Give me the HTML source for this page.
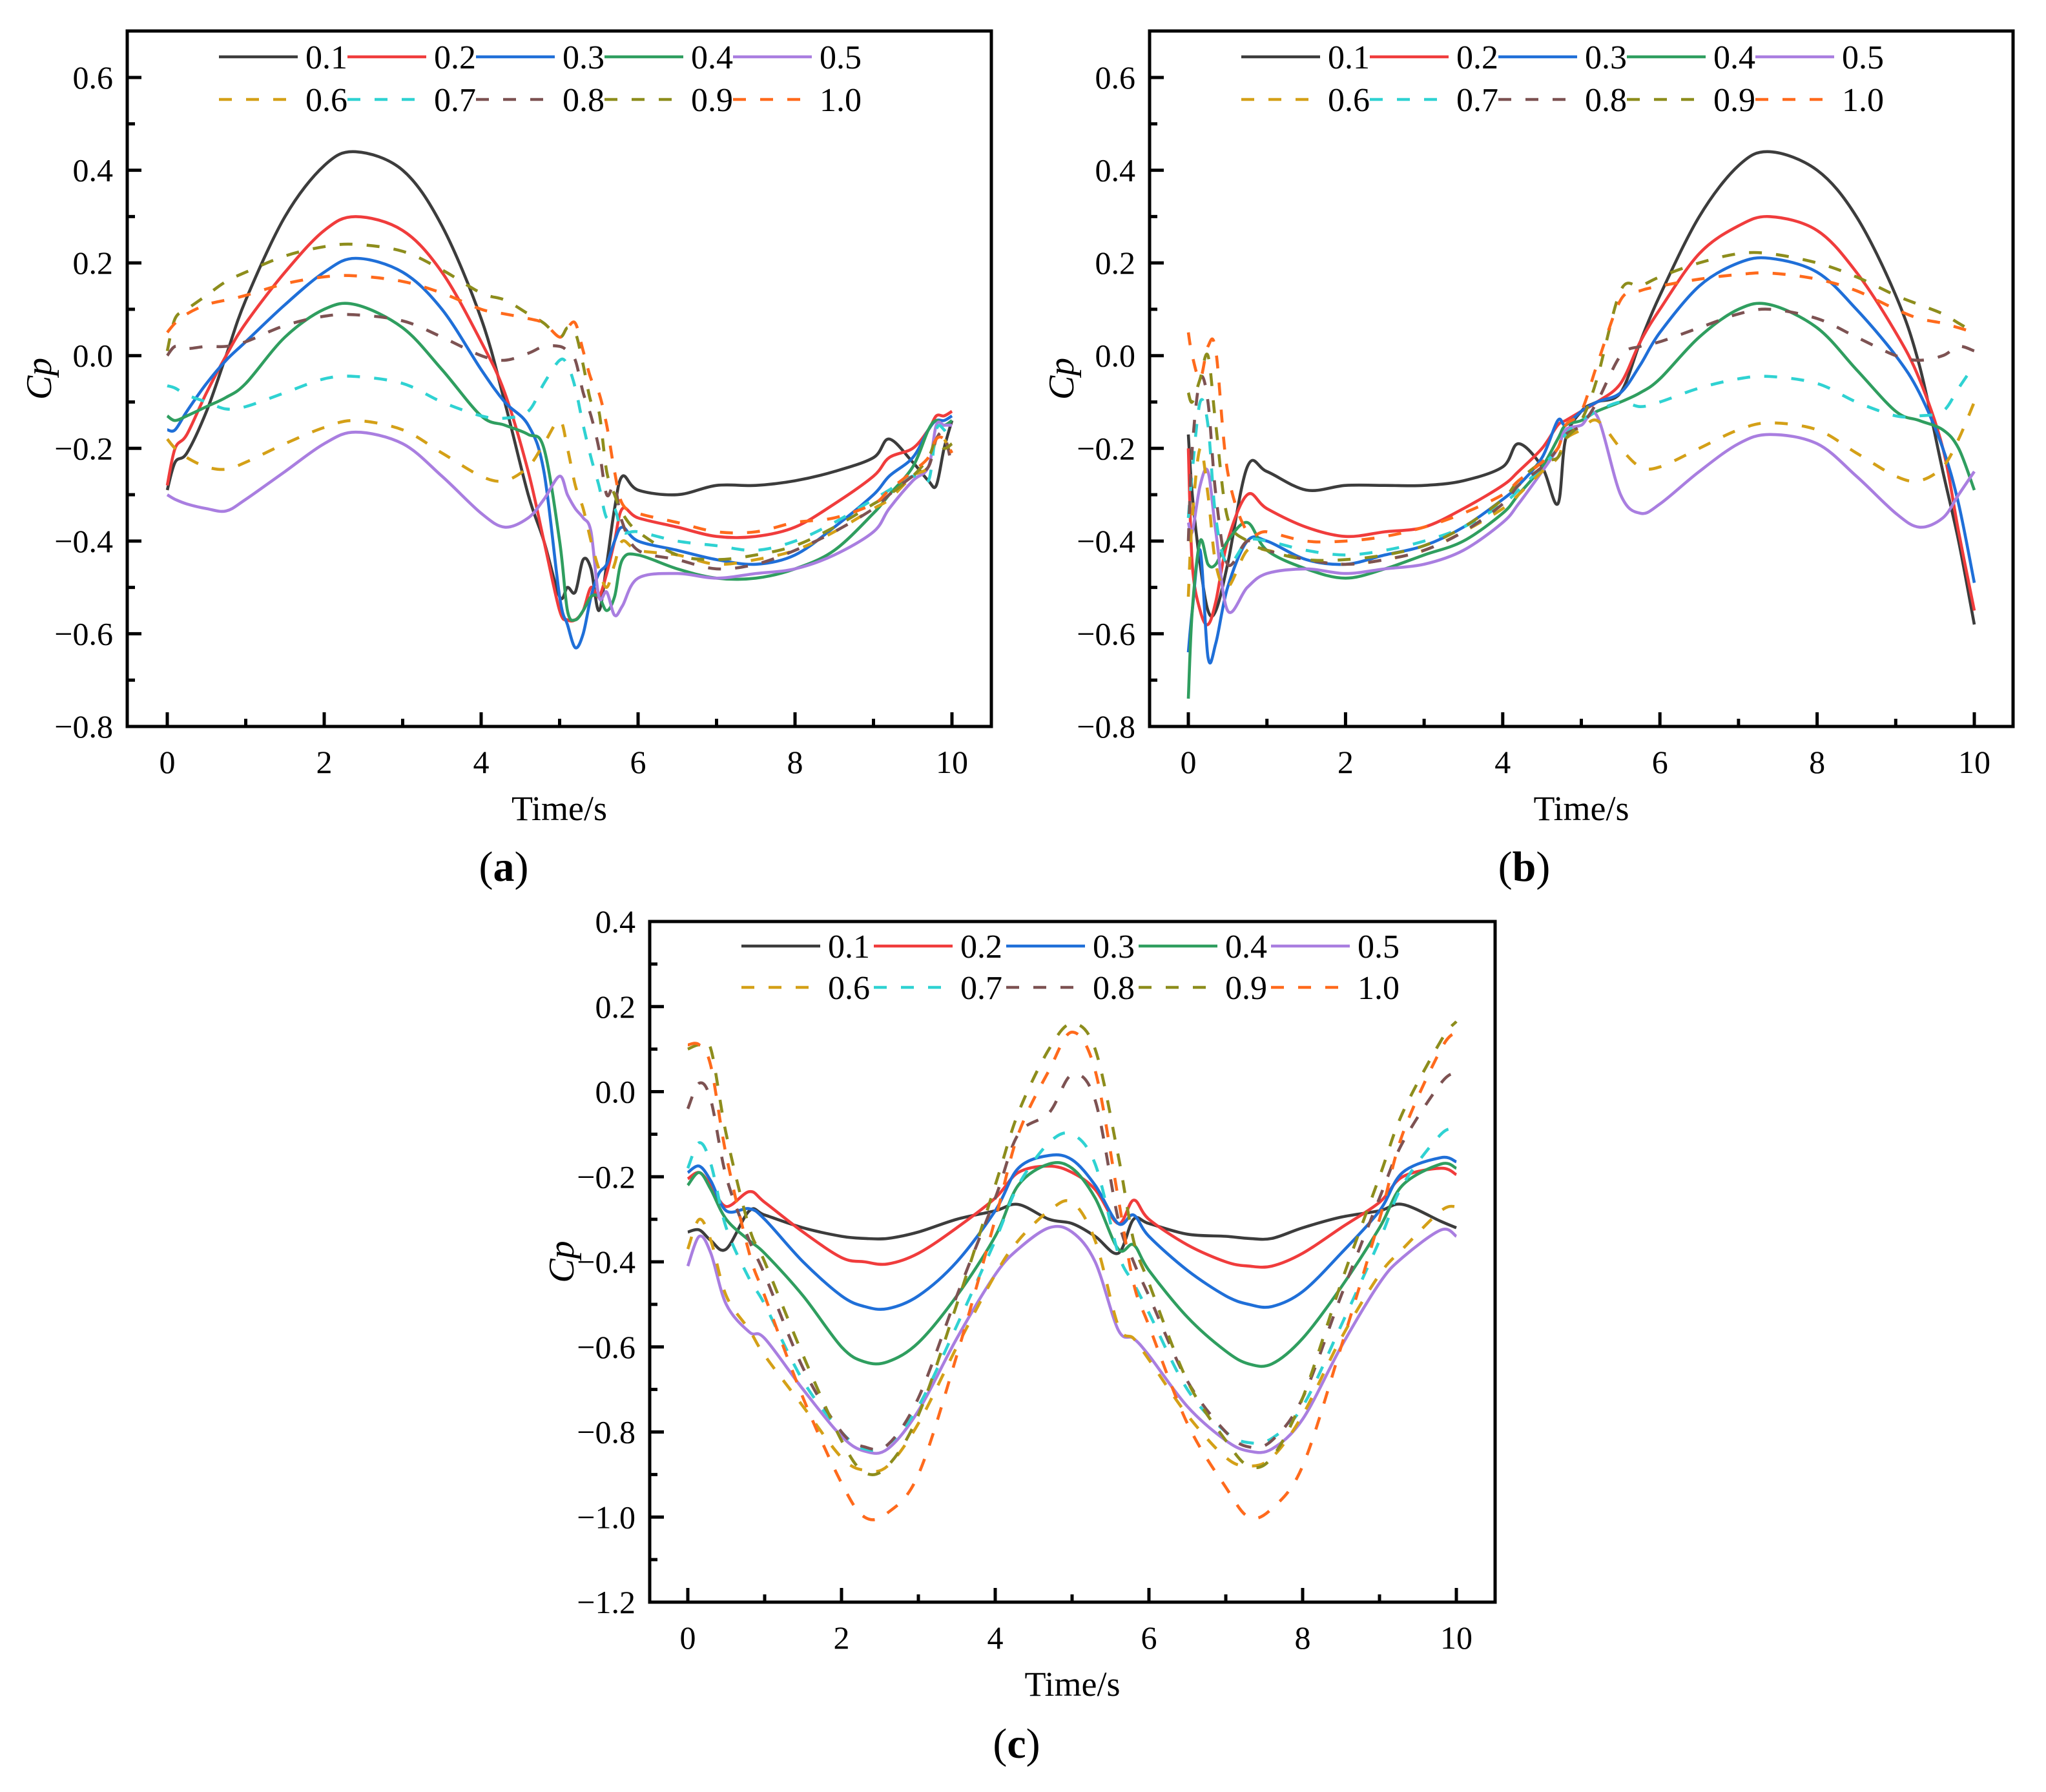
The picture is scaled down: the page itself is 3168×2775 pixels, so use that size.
<!DOCTYPE html>
<html><head><meta charset="utf-8"><style>
html,body{margin:0;padding:0;background:#fff;}
svg{display:block;font-family:"Liberation Serif",serif;}
</style></head><body>
<svg id="fig" width="3168" height="2775" viewBox="0 0 3168 2775" xmlns="http://www.w3.org/2000/svg"></svg>
<script>
const labels = ["0.1","0.2","0.3","0.4","0.5","0.6","0.7","0.8","0.9","1.0"];
const colors = ["#3c3c3c","#f03c3c","#1f6fd8","#2f9e5f","#a97ee0","#d4a017","#2fd2d2","#7d5252","#8d8d1c","#ff6a1c"];
const dashed = [false,false,false,false,false,true,true,true,true,true];

const timesA = [0,0.1,0.25,0.5,0.75,1,1.5,2,2.4,3,3.5,4,4.3,4.6,4.8,5.0,5.1,5.2,5.3,5.4,5.5,5.6,5.7,5.8,6,6.5,7,7.5,8,8.5,9,9.2,9.5,9.7,9.8,9.9,10];
const a01 = [-0.29,-0.23,-0.21,-0.12,0.0,0.12,0.30,0.41,0.44,0.40,0.28,0.08,-0.10,-0.30,-0.40,-0.52,-0.50,-0.51,-0.44,-0.46,-0.55,-0.45,-0.33,-0.26,-0.29,-0.30,-0.28,-0.28,-0.27,-0.25,-0.22,-0.18,-0.23,-0.27,-0.28,-0.20,-0.14];
const a02 = [-0.28,-0.20,-0.17,-0.08,0.0,0.07,0.18,0.27,0.30,0.27,0.18,0.03,-0.08,-0.25,-0.40,-0.55,-0.57,-0.57,-0.55,-0.50,-0.52,-0.47,-0.40,-0.33,-0.35,-0.37,-0.39,-0.39,-0.37,-0.32,-0.26,-0.22,-0.20,-0.16,-0.13,-0.13,-0.12];
const a03 = [-0.16,-0.16,-0.12,-0.06,-0.01,0.03,0.11,0.18,0.21,0.18,0.10,-0.03,-0.10,-0.15,-0.25,-0.52,-0.58,-0.63,-0.60,-0.52,-0.47,-0.45,-0.40,-0.37,-0.40,-0.42,-0.44,-0.45,-0.43,-0.37,-0.30,-0.26,-0.22,-0.16,-0.14,-0.14,-0.13];
const a04 = [-0.13,-0.14,-0.13,-0.11,-0.09,-0.06,0.04,0.10,0.11,0.06,-0.03,-0.13,-0.15,-0.17,-0.20,-0.40,-0.55,-0.57,-0.55,-0.52,-0.52,-0.55,-0.52,-0.44,-0.43,-0.46,-0.48,-0.48,-0.46,-0.42,-0.34,-0.30,-0.24,-0.16,-0.14,-0.15,-0.14];
const a05 = [-0.30,-0.31,-0.32,-0.33,-0.335,-0.31,-0.25,-0.19,-0.165,-0.19,-0.26,-0.34,-0.37,-0.35,-0.31,-0.26,-0.30,-0.33,-0.35,-0.38,-0.52,-0.51,-0.56,-0.54,-0.48,-0.47,-0.48,-0.47,-0.46,-0.43,-0.38,-0.33,-0.27,-0.24,-0.15,-0.15,-0.15];
const a06 = [-0.18,-0.20,-0.22,-0.24,-0.245,-0.23,-0.19,-0.155,-0.14,-0.16,-0.21,-0.26,-0.27,-0.24,-0.19,-0.14,-0.20,-0.28,-0.33,-0.40,-0.46,-0.50,-0.45,-0.40,-0.42,-0.43,-0.45,-0.44,-0.42,-0.38,-0.33,-0.31,-0.26,-0.24,-0.18,-0.18,-0.22];
const a07 = [-0.065,-0.07,-0.085,-0.10,-0.115,-0.11,-0.08,-0.05,-0.045,-0.06,-0.10,-0.13,-0.135,-0.12,-0.06,-0.01,-0.02,-0.07,-0.15,-0.22,-0.28,-0.35,-0.33,-0.38,-0.38,-0.40,-0.41,-0.42,-0.40,-0.36,-0.31,-0.29,-0.26,-0.27,-0.16,-0.16,-0.19];
const a08 = [0.0,0.02,0.015,0.02,0.02,0.03,0.065,0.085,0.088,0.075,0.04,0.0,-0.01,0.005,0.02,0.02,0.01,-0.01,-0.08,-0.13,-0.20,-0.30,-0.28,-0.36,-0.42,-0.44,-0.46,-0.45,-0.42,-0.38,-0.33,-0.30,-0.26,-0.24,-0.18,-0.17,-0.24];
const a09 = [0.01,0.08,0.10,0.13,0.16,0.18,0.215,0.235,0.24,0.225,0.185,0.135,0.12,0.09,0.07,0.04,0.06,0.05,-0.02,-0.10,-0.12,-0.25,-0.30,-0.34,-0.38,-0.43,-0.44,-0.43,-0.41,-0.37,-0.32,-0.30,-0.26,-0.22,-0.18,-0.20,-0.19];
const a10 = [0.05,0.07,0.09,0.11,0.12,0.13,0.155,0.17,0.172,0.16,0.135,0.10,0.09,0.08,0.07,0.04,0.06,0.07,0.01,-0.05,-0.08,-0.15,-0.25,-0.32,-0.34,-0.36,-0.38,-0.38,-0.36,-0.35,-0.32,-0.29,-0.25,-0.22,-0.18,-0.18,-0.21];

const timesB = [0,0.05,0.15,0.25,0.35,0.5,0.75,1,1.5,2,2.5,3,3.5,4,4.2,4.5,4.7,4.8,5.0,5.2,5.5,5.75,6,6.5,7,7.4,8,8.5,9,9.3,9.6,9.8,10];
const b01 = [-0.17,-0.30,-0.45,-0.55,-0.55,-0.45,-0.24,-0.25,-0.29,-0.28,-0.28,-0.28,-0.27,-0.24,-0.19,-0.24,-0.32,-0.18,-0.12,-0.10,-0.08,0.03,0.13,0.30,0.41,0.44,0.40,0.30,0.13,-0.02,-0.25,-0.40,-0.58];
const b02 = [-0.20,-0.45,-0.55,-0.58,-0.53,-0.40,-0.30,-0.33,-0.37,-0.39,-0.38,-0.37,-0.33,-0.28,-0.25,-0.20,-0.15,-0.14,-0.12,-0.10,-0.06,0.03,0.10,0.22,0.28,0.30,0.27,0.18,0.05,-0.05,-0.20,-0.38,-0.55];
const b03 = [-0.64,-0.55,-0.42,-0.65,-0.62,-0.50,-0.40,-0.40,-0.44,-0.45,-0.43,-0.41,-0.37,-0.31,-0.28,-0.22,-0.14,-0.15,-0.12,-0.10,-0.08,-0.02,0.05,0.15,0.20,0.21,0.18,0.10,0.00,-0.08,-0.20,-0.32,-0.49];
const b04 = [-0.74,-0.55,-0.40,-0.45,-0.45,-0.40,-0.36,-0.42,-0.46,-0.48,-0.46,-0.43,-0.40,-0.34,-0.30,-0.24,-0.18,-0.15,-0.14,-0.12,-0.10,-0.08,-0.05,0.04,0.10,0.11,0.06,-0.03,-0.12,-0.14,-0.16,-0.20,-0.29];
const b05 = [-0.36,-0.38,-0.28,-0.25,-0.38,-0.55,-0.50,-0.47,-0.46,-0.47,-0.46,-0.45,-0.42,-0.36,-0.32,-0.25,-0.20,-0.16,-0.15,-0.13,-0.30,-0.34,-0.32,-0.25,-0.19,-0.17,-0.19,-0.26,-0.34,-0.37,-0.35,-0.30,-0.25];
const b06 = [-0.52,-0.35,-0.20,-0.30,-0.45,-0.50,-0.42,-0.42,-0.44,-0.45,-0.44,-0.42,-0.38,-0.33,-0.30,-0.25,-0.22,-0.18,-0.16,-0.14,-0.20,-0.24,-0.24,-0.20,-0.16,-0.145,-0.16,-0.21,-0.26,-0.27,-0.24,-0.18,-0.10];
const b07 = [-0.35,-0.25,-0.10,-0.15,-0.35,-0.45,-0.40,-0.40,-0.42,-0.43,-0.42,-0.40,-0.37,-0.32,-0.29,-0.24,-0.20,-0.17,-0.14,-0.12,-0.10,-0.11,-0.10,-0.07,-0.05,-0.045,-0.06,-0.10,-0.13,-0.13,-0.12,-0.07,-0.02];
const b08 = [-0.40,-0.20,-0.05,-0.10,-0.30,-0.45,-0.40,-0.42,-0.44,-0.45,-0.44,-0.42,-0.38,-0.32,-0.28,-0.24,-0.20,-0.17,-0.15,-0.10,0.00,0.02,0.03,0.06,0.09,0.10,0.08,0.04,0.0,-0.01,0.0,0.02,0.01];
const b09 = [-0.08,-0.10,-0.05,0.0,-0.15,-0.35,-0.40,-0.42,-0.44,-0.44,-0.43,-0.41,-0.37,-0.31,-0.27,-0.23,-0.22,-0.18,-0.14,-0.05,0.14,0.15,0.17,0.20,0.22,0.22,0.20,0.17,0.13,0.11,0.09,0.07,0.05];
const b10 = [0.05,0.0,-0.05,0.02,0.01,-0.25,-0.38,-0.38,-0.40,-0.40,-0.39,-0.37,-0.34,-0.30,-0.27,-0.23,-0.20,-0.15,-0.12,-0.02,0.12,0.14,0.15,0.165,0.175,0.178,0.165,0.14,0.10,0.08,0.07,0.06,0.05];

const timesC = [0,0.15,0.3,0.5,0.8,1,1.5,2,2.3,2.6,3,3.5,4,4.3,4.7,5,5.3,5.6,5.8,6,6.5,7,7.3,7.6,8,8.5,9,9.3,9.8,10];
const c01 = [-0.33,-0.325,-0.35,-0.37,-0.28,-0.29,-0.32,-0.34,-0.345,-0.345,-0.33,-0.30,-0.28,-0.265,-0.30,-0.31,-0.34,-0.38,-0.30,-0.31,-0.335,-0.34,-0.345,-0.345,-0.32,-0.295,-0.28,-0.265,-0.305,-0.32];
const c02 = [-0.205,-0.19,-0.22,-0.27,-0.235,-0.26,-0.33,-0.39,-0.40,-0.405,-0.38,-0.32,-0.25,-0.19,-0.175,-0.19,-0.23,-0.31,-0.255,-0.30,-0.36,-0.40,-0.41,-0.41,-0.38,-0.32,-0.26,-0.20,-0.18,-0.195];
const c03 = [-0.19,-0.175,-0.21,-0.28,-0.275,-0.30,-0.40,-0.48,-0.505,-0.51,-0.48,-0.40,-0.28,-0.18,-0.15,-0.16,-0.22,-0.31,-0.29,-0.34,-0.42,-0.48,-0.50,-0.505,-0.47,-0.38,-0.28,-0.19,-0.155,-0.165];
const c04 = [-0.22,-0.19,-0.23,-0.30,-0.35,-0.38,-0.48,-0.60,-0.635,-0.635,-0.59,-0.48,-0.34,-0.22,-0.17,-0.18,-0.25,-0.37,-0.36,-0.42,-0.53,-0.61,-0.64,-0.64,-0.58,-0.46,-0.32,-0.22,-0.17,-0.18];
const c05 = [-0.41,-0.34,-0.38,-0.50,-0.565,-0.58,-0.70,-0.81,-0.845,-0.84,-0.75,-0.58,-0.43,-0.37,-0.32,-0.33,-0.40,-0.56,-0.58,-0.62,-0.74,-0.82,-0.845,-0.84,-0.77,-0.60,-0.45,-0.39,-0.325,-0.34];
const c06 = [-0.37,-0.30,-0.35,-0.48,-0.56,-0.62,-0.74,-0.86,-0.89,-0.88,-0.78,-0.60,-0.43,-0.35,-0.28,-0.26,-0.35,-0.55,-0.58,-0.63,-0.76,-0.86,-0.88,-0.86,-0.76,-0.58,-0.43,-0.37,-0.28,-0.27];
const c07 = [-0.18,-0.12,-0.17,-0.32,-0.44,-0.50,-0.68,-0.80,-0.84,-0.83,-0.74,-0.55,-0.35,-0.22,-0.12,-0.10,-0.17,-0.38,-0.45,-0.52,-0.70,-0.80,-0.825,-0.815,-0.74,-0.55,-0.35,-0.22,-0.10,-0.09];
const c08 = [-0.04,0.02,-0.02,-0.20,-0.35,-0.43,-0.65,-0.80,-0.835,-0.83,-0.72,-0.48,-0.25,-0.10,-0.05,0.04,-0.02,-0.30,-0.40,-0.48,-0.68,-0.80,-0.835,-0.82,-0.72,-0.48,-0.25,-0.12,0.02,0.045];
const c09 = [0.10,0.11,0.10,-0.10,-0.32,-0.40,-0.62,-0.82,-0.895,-0.88,-0.76,-0.50,-0.22,-0.05,0.10,0.16,0.10,-0.15,-0.35,-0.45,-0.68,-0.82,-0.88,-0.86,-0.72,-0.45,-0.20,-0.05,0.12,0.165];
const c10 = [0.11,0.11,0.06,-0.15,-0.38,-0.48,-0.72,-0.92,-1.0,-0.99,-0.90,-0.62,-0.30,-0.10,0.05,0.14,0.05,-0.25,-0.45,-0.55,-0.78,-0.93,-1.0,-0.98,-0.88,-0.60,-0.30,-0.10,0.10,0.14];

const xTicks = [0,2,4,6,8,10];
const yTicksAB = [-0.8,-0.6,-0.4,-0.2,0.0,0.2,0.4,0.6];
const yTicksC = [-1.2,-1.0,-0.8,-0.6,-0.4,-0.2,0.0,0.2,0.4];

const NS = "http://www.w3.org/2000/svg";
const svg = document.getElementById('fig');
function mk(tag, attrs, parent){ const e=document.createElementNS(NS,tag); for(const k in attrs) e.setAttribute(k,attrs[k]); (parent||svg).appendChild(e); return e; }
function smooth(pts){
  let d = "M"+pts[0][0].toFixed(1)+","+pts[0][1].toFixed(1);
  for(let i=0;i<pts.length-1;i++){
    const p0=pts[Math.max(0,i-1)],p1=pts[i],p2=pts[i+1],p3=pts[Math.min(pts.length-1,i+2)];
    const c1=[p1[0]+(p2[0]-p0[0])/6,p1[1]+(p2[1]-p0[1])/6];
    const c2=[p2[0]-(p3[0]-p1[0])/6,p2[1]-(p3[1]-p1[1])/6];
    d+=" C"+c1[0].toFixed(1)+","+c1[1].toFixed(1)+" "+c2[0].toFixed(1)+","+c2[1].toFixed(1)+" "+p2[0].toFixed(1)+","+p2[1].toFixed(1);
  }
  return d;
}

function panel(cfg){
  const g = mk('g',{});
  
  
  const xs = v => cfg.x0 + (v-0)/(10-0)*(cfg.x10-cfg.x0);
  const ys = v => cfg.yB + (v-cfg.vB)/(cfg.vT-cfg.vB)*(cfg.yT-cfg.yB);
  const sg = mk('g',{},g);
  
  
  cfg.series.forEach((vals,i)=>{
    const pts = cfg.times.map((t,j)=>[xs(t), ys(vals[j])]);
    const p = mk('path',{d:smooth(pts),fill:'none',stroke:colors[i],'stroke-width':4.6,'stroke-linejoin':'round','stroke-dasharray':dashed[i]?'20 22':'none'},sg);
    
    
  });
  const fr = mk('rect',{x:cfg.L,y:cfg.T,width:cfg.R-cfg.L,height:cfg.B-cfg.T,fill:'none',stroke:'#000','stroke-width':5},g);
  
  
  for(let v=0; v<=10; v+=1){
    const major = v%2===0;
    const tk = mk('line',{x1:xs(v),x2:xs(v),y1:cfg.B,y2:cfg.B-(major?22:12),stroke:'#000','stroke-width':5},g);
    
    
  }
  xTicks.forEach(v=>{
    const t = mk('text',{x:xs(v),y:cfg.B+72,'font-size':50,'text-anchor':'middle'},g);
    t.textContent = String(v);
    
    
  });
  const step = 0.1;
  for(let k=Math.round(cfg.vB/step); k<=Math.round(cfg.ticks[cfg.ticks.length-1]/step); k++){
    const v = k*step;
    const major = k%2===0;
    const tk = mk('line',{x1:cfg.L,x2:cfg.L+(major?22:12),y1:ys(v),y2:ys(v),stroke:'#000','stroke-width':5},g);
    
    
  }
  cfg.ticks.forEach(v=>{
    const t = mk('text',{x:cfg.L-22,y:ys(v)+17,'font-size':50,'text-anchor':'end'},g);
    t.textContent = (v<0?'\u2212':'')+Math.abs(v).toFixed(1);
    
    
  });
  const xt = mk('text',{x:(cfg.L+cfg.R)/2,y:cfg.B+145,'font-size':54,'text-anchor':'middle'},g);
  xt.textContent = 'Time/s';
  
  
  const yt = mk('text',{x:0,y:0,'font-size':56,'font-style':'italic','text-anchor':'middle',transform:'translate('+(cfg.L-118)+','+((cfg.T+cfg.B)/2)+') rotate(-90)'},g);
  yt.textContent = 'Cp';
  
  
  const pl = mk('text',{x:cfg.labX,y:cfg.labY,'font-size':66,'text-anchor':'middle'},g);
  pl.innerHTML = '(<tspan font-weight="bold">'+cfg.id+'</tspan>)';
  
  
  const lg = mk('g',{},g);
  
  
  labels.forEach((lab,i)=>{
    const row = i<5?0:1, col=i%5;
    const lx = cfg.L+142+col*cfg.stride, ly = cfg.T+(row?cfg.leg2:cfg.leg1);
    const e = mk('g',{},lg);
    
    
    mk('line',{x1:lx,x2:lx+122,y1:ly,y2:ly,stroke:colors[i],'stroke-width':4.5,'stroke-dasharray':dashed[i]?'20 22':'none'},e);
    const t = mk('text',{x:lx+134,y:ly+18,'font-size':52},e);
    t.textContent = lab;
  });
}

panel({id:'a',L:197,R:1535,T:48,B:1125,x0:259,x10:1474,yB:1125,vB:-0.8,yT:120,vT:0.6,ticks:yTicksAB,times:timesA,
  series:[a01,a02,a03,a04,a05,a06,a07,a08,a09,a10],labX:780,labY:1364,stride:199,leg1:40,leg2:106});
panel({id:'b',L:1780,R:3117,T:48,B:1125,x0:1840,x10:3057,yB:1125,vB:-0.8,yT:120,vT:0.6,ticks:yTicksAB,times:timesB,
  series:[b01,b02,b03,b04,b05,b06,b07,b08,b09,b10],labX:2360,labY:1364,stride:199,leg1:40,leg2:106});
panel({id:'c',L:1006,R:2315,T:1427,B:2481,x0:1065,x10:2255,yB:2481,vB:-1.2,yT:1427,vT:0.4,ticks:yTicksC,times:timesC,
  series:[c01,c02,c03,c04,c05,c06,c07,c08,c09,c10],labX:1574,labY:2722,stride:205,leg1:38,leg2:102});
</script>
</body></html>
